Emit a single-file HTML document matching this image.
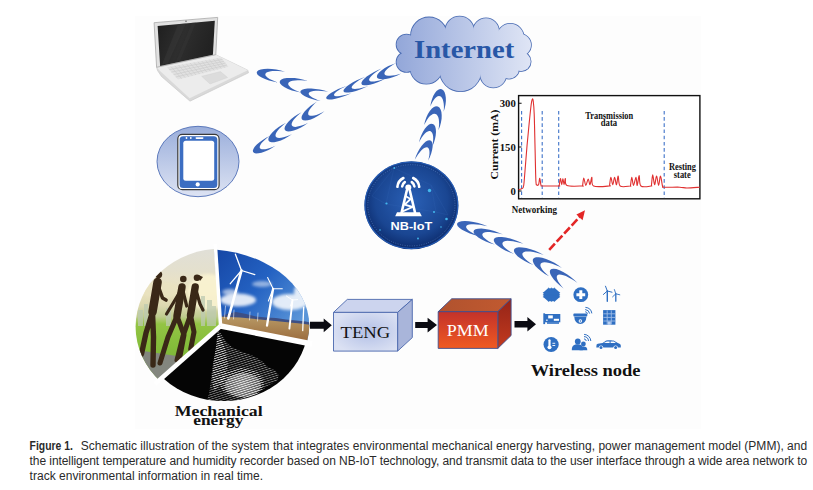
<!DOCTYPE html>
<html><head><meta charset="utf-8"><title>Figure 1</title>
<style>
html,body{margin:0;padding:0;background:#fff;width:813px;height:490px;overflow:hidden}
svg{position:absolute;left:0;top:0;display:block}
.cap{position:absolute;left:29.6px;font-family:"Liberation Sans",sans-serif;font-size:12px;color:#2a2a2a;white-space:nowrap;line-height:15px}
</style></head><body>
<svg width="813" height="490" viewBox="0 0 813 490">
<defs>
 <linearGradient id="cloudG" gradientUnits="userSpaceOnUse" x1="397" y1="0" x2="531" y2="0">
  <stop offset="0" stop-color="#93a7d9"/><stop offset="1" stop-color="#dfe5f5"/>
 </linearGradient>
 <linearGradient id="phoneG" x1="0" y1="0" x2="0" y2="1">
  <stop offset="0" stop-color="#9aaedb"/><stop offset="1" stop-color="#dde3f3"/>
 </linearGradient>
 <radialGradient id="nbG" cx="0.5" cy="0.45" r="0.55">
  <stop offset="0" stop-color="#2a60b6"/><stop offset="0.7" stop-color="#1a4692"/><stop offset="1" stop-color="#0c2b6c"/>
 </radialGradient>
 <linearGradient id="scrG" x1="0" y1="0" x2="1" y2="0.3">
  <stop offset="0" stop-color="#1e1e1e"/><stop offset="0.5" stop-color="#2e2e2e"/><stop offset="1" stop-color="#222"/>
 </linearGradient>
</defs>

<!-- faint figure backdrop -->
<rect x="135" y="16" width="566" height="413" fill="#fdfdfd"/>

<!-- laptop -->
<g id="laptop">
 <polygon points="156.6,67.3 215.8,54.7 247.8,70.2 248.5,72.8 190,101.2 161.5,76.5 157.5,70.5" fill="#d9d9d9" stroke="#c6c6c6" stroke-width="0.6"/>
 <polygon points="156.6,67.3 215.8,54.7 247.8,70.2 189.6,98.2 160,71" fill="#ececec"/>
 <polygon points="167,67.2 221,57.6 228.5,66.8 178,79.5" fill="#e1e1e1"/><path d="M169.2,69.7L222.5,59.4M171.4,72.1L224.0,61.3M173.6,74.6L225.5,63.1M175.8,77.0L227.0,65.0M170.9,66.5L181.6,78.6M174.7,65.8L185.2,77.7M178.6,65.1L188.8,76.8M182.4,64.5L192.4,75.9M186.3,63.8L196.0,75.0M190.1,63.1L199.6,74.1M194.0,62.4L203.2,73.2M197.9,61.7L206.9,72.2M201.7,61.0L210.5,71.3M205.6,60.3L214.1,70.4M209.4,59.7L217.7,69.5M213.3,59.0L221.3,68.6M217.1,58.3L224.9,67.7" stroke="#cdcdcd" stroke-width="0.7" fill="none"/>
 <polygon points="201.7,76.3 220.5,71.6 227.6,77.5 210,84" fill="#dcdcdc" stroke="#cfcfcf" stroke-width="0.4"/>
 <polygon points="154.1,22.7 217.7,17.4 215.8,54.7 156.6,67.3" fill="#e1e1e1" stroke="#a9a9a9" stroke-width="0.8"/>
 <polygon points="157.6,26 214.8,20.7 212.9,54.7 160.1,65.9" fill="url(#scrG)"/>
 <polygon points="178,24.2 186,23.5 168,63.3 162,64.6" fill="#3a3a3a" opacity="0.45"/>
 <polygon points="192,22.8 196,22.4 180,60.7 176,61.6" fill="#3a3a3a" opacity="0.35"/>
 <circle cx="186" cy="21.3" r="0.7" fill="#555"/>
</g>

<!-- phone -->
<g id="phone">
 <ellipse cx="198" cy="161.5" rx="41" ry="35.2" fill="url(#phoneG)" stroke="#4f6eb5" stroke-width="0.9"/>
 <rect x="177.8" y="134.4" width="41.3" height="55.3" rx="4.5" fill="#fff" stroke="#3a3a3a" stroke-width="1.2"/>
 <rect x="179.6" y="136.2" width="37.7" height="51.7" rx="3.5" fill="#3c6ec2"/>
 <rect x="183.3" y="140.7" width="30.9" height="40" rx="2.5" fill="#fff"/>
 <circle cx="197.7" cy="184.4" r="2.1" fill="#fff"/>
 <rect x="195.5" y="137.3" width="8" height="1.6" rx="0.8" fill="#fff"/>
 <circle cx="186.5" cy="138" r="0.9" fill="#fff"/><circle cx="190.8" cy="138" r="0.9" fill="#fff"/>
</g>

<!-- crescents -->
<g fill="#3a65b8"><path d="M285.0,71.7 280.8,70.5 276.3,69.6 271.9,69.0 267.7,68.7 263.9,68.9 260.8,69.4 258.5,70.2 257.1,71.4 256.7,72.8 257.4,74.4 259.1,76.0 261.7,77.6 265.0,79.1 269.0,80.5 273.3,81.6 277.8,82.4 274.7,81.3 271.9,80.1 269.6,78.9 267.7,77.7 266.4,76.5 265.5,75.4 265.3,74.3 265.6,73.4 266.5,72.6 267.9,71.9 269.8,71.4 272.2,71.1 274.9,71.0 278.1,71.0 281.4,71.3Z"/><path d="M307.8,81.0 303.6,79.7 299.2,78.7 294.7,78.1 290.5,77.9 286.8,78.0 283.6,78.6 281.4,79.5 280.0,80.7 279.7,82.2 280.3,83.8 282.0,85.6 284.6,87.3 288.0,89.0 291.9,90.4 296.2,91.6 300.7,92.4 297.6,91.3 294.8,90.0 292.5,88.7 290.6,87.4 289.3,86.1 288.4,84.9 288.2,83.8 288.5,82.8 289.3,82.0 290.7,81.2 292.6,80.7 295.0,80.4 297.8,80.2 300.9,80.3 304.2,80.6Z"/><path d="M328.3,91.7 324.3,90.5 319.9,89.6 315.5,88.9 311.3,88.6 307.6,88.6 304.4,89.0 302.1,89.7 300.7,90.7 300.3,91.9 300.9,93.3 302.5,94.8 304.9,96.3 308.2,97.8 312.0,99.1 316.2,100.2 320.6,101.0 317.6,99.9 315.0,98.8 312.7,97.7 310.9,96.6 309.6,95.5 308.9,94.5 308.7,93.5 309.0,92.7 309.9,92.0 311.4,91.4 313.3,91.1 315.7,90.8 318.4,90.8 321.5,90.9 324.9,91.2Z"/><path d="M269.7,136.0 266.1,137.8 262.7,139.9 259.5,142.2 256.8,144.5 254.7,146.8 253.4,148.9 252.8,150.7 253.1,152.1 254.2,153.0 256.0,153.4 258.5,153.3 261.5,152.7 264.9,151.5 268.5,149.9 272.0,148.0 275.4,145.8 272.6,147.0 269.9,148.0 267.4,148.7 265.2,149.2 263.3,149.3 261.7,149.2 260.6,148.8 259.9,148.2 259.7,147.2 259.9,146.1 260.5,144.7 261.6,143.1 263.1,141.4 265.0,139.7 267.2,137.8Z"/><path d="M286.1,122.8 282.3,124.8 278.7,127.1 275.4,129.6 272.5,132.2 270.4,134.7 268.9,137.1 268.3,139.1 268.6,140.7 269.7,141.8 271.6,142.3 274.2,142.3 277.4,141.6 280.9,140.4 284.6,138.7 288.3,136.6 291.9,134.2 288.9,135.5 286.1,136.6 283.5,137.3 281.2,137.8 279.2,137.9 277.6,137.7 276.4,137.2 275.7,136.4 275.5,135.4 275.7,134.0 276.4,132.5 277.6,130.7 279.2,128.8 281.1,126.9 283.5,124.8Z"/><path d="M301.6,112.2 297.9,114.2 294.4,116.6 291.2,119.1 288.4,121.7 286.4,124.2 285.0,126.5 284.5,128.5 284.9,130.0 286.1,131.0 288.1,131.4 290.7,131.3 293.8,130.5 297.3,129.2 301.0,127.4 304.7,125.2 308.1,122.8 305.2,124.2 302.4,125.3 299.8,126.1 297.5,126.6 295.5,126.9 293.9,126.8 292.7,126.3 291.9,125.6 291.6,124.6 291.8,123.3 292.4,121.8 293.5,120.1 295.0,118.2 296.9,116.3 299.1,114.2Z"/><path d="M317.1,101.6 313.6,103.7 310.3,106.1 307.3,108.7 304.8,111.3 303.0,113.8 301.8,116.1 301.5,118.0 302.0,119.4 303.3,120.3 305.2,120.6 307.8,120.3 310.9,119.4 314.2,117.9 317.7,116.0 321.2,113.8 324.4,111.3 321.6,112.7 318.9,113.9 316.4,114.9 314.2,115.5 312.2,115.8 310.6,115.8 309.4,115.5 308.5,114.9 308.2,113.9 308.2,112.7 308.7,111.2 309.7,109.5 311.0,107.7 312.7,105.7 314.7,103.6Z"/><path d="M346.4,85.9 342.3,87.4 338.2,89.1 334.5,90.9 331.3,92.7 328.8,94.5 327.0,96.2 326.2,97.5 326.3,98.6 327.4,99.3 329.3,99.5 332.0,99.4 335.4,98.8 339.2,97.8 343.2,96.5 347.4,94.9 351.3,93.2 348.0,94.2 345.0,95.0 342.2,95.6 339.7,96.1 337.7,96.2 336.0,96.2 334.8,95.9 334.2,95.4 334.0,94.7 334.4,93.8 335.3,92.8 336.7,91.6 338.6,90.2 340.8,88.8 343.5,87.4Z"/><path d="M365.2,76.8 361.0,78.4 356.8,80.3 352.9,82.3 349.4,84.5 346.6,86.5 344.7,88.4 343.6,90.0 343.5,91.3 344.4,92.2 346.2,92.6 348.8,92.5 352.2,91.9 356.0,90.9 360.2,89.5 364.4,87.8 368.5,85.8 365.2,86.9 362.1,87.8 359.3,88.4 356.9,88.8 354.9,88.9 353.3,88.8 352.2,88.4 351.7,87.8 351.7,87.0 352.2,85.9 353.3,84.7 354.9,83.3 356.9,81.7 359.3,80.1 362.1,78.5Z"/><path d="M381.5,68.6 377.5,70.3 373.6,72.2 369.9,74.4 366.7,76.6 364.2,78.8 362.4,80.8 361.5,82.5 361.5,83.9 362.4,84.9 364.2,85.3 366.8,85.3 370.0,84.7 373.7,83.7 377.7,82.3 381.7,80.5 385.5,78.4 382.4,79.5 379.5,80.4 376.8,81.0 374.4,81.4 372.4,81.5 370.9,81.4 369.8,80.9 369.2,80.3 369.1,79.3 369.6,78.2 370.5,76.9 371.9,75.4 373.8,73.8 376.1,72.1 378.7,70.3Z"/><path d="M396.2,63.0 392.3,64.4 388.4,66.1 384.8,68.1 381.7,70.2 379.3,72.2 377.6,74.2 376.9,75.9 377.0,77.4 378.0,78.5 379.9,79.1 382.6,79.3 385.8,79.0 389.5,78.2 393.4,77.0 397.4,75.4 401.1,73.6 398.0,74.5 395.1,75.2 392.4,75.6 390.0,75.8 388.0,75.8 386.4,75.5 385.2,75.0 384.6,74.2 384.4,73.2 384.8,72.1 385.6,70.8 387.0,69.3 388.7,67.8 390.9,66.2 393.4,64.6Z"/><path d="M430.3,106.6 430.9,103.0 431.9,99.4 433.2,96.1 434.8,93.3 436.5,91.1 438.3,89.7 440.1,89.0 441.8,89.2 443.3,90.2 444.5,92.0 445.3,94.5 445.8,97.6 445.9,101.0 445.5,104.6 444.7,108.3 443.6,111.7 443.9,108.8 443.9,106.1 443.7,103.6 443.3,101.4 442.8,99.5 442.0,97.9 441.1,96.8 440.1,96.2 439.0,96.0 437.7,96.3 436.5,97.0 435.1,98.2 433.9,99.8 432.6,101.8 431.4,104.1Z"/><path d="M424.1,125.1 425.0,121.2 426.3,117.4 427.9,114.0 429.8,111.0 431.9,108.6 433.9,107.1 436.0,106.3 437.8,106.5 439.4,107.5 440.6,109.4 441.4,112.0 441.7,115.2 441.6,118.8 440.9,122.7 439.9,126.5 438.4,130.2 438.9,127.1 439.1,124.3 439.0,121.6 438.8,119.3 438.3,117.3 437.5,115.7 436.6,114.6 435.5,113.9 434.3,113.7 432.9,114.0 431.4,114.9 429.9,116.1 428.4,117.8 426.9,119.9 425.5,122.4Z"/><path d="M419.0,142.4 420.0,138.6 421.4,135.0 423.1,131.6 425.0,128.6 427.0,126.3 429.0,124.6 431.0,123.8 432.7,123.9 434.1,124.8 435.2,126.5 435.8,129.0 436.0,132.0 435.7,135.5 435.0,139.1 433.8,142.9 432.3,146.5 432.8,143.5 433.1,140.8 433.2,138.2 433.1,136.0 432.7,134.2 432.1,132.7 431.2,131.7 430.2,131.1 429.1,131.0 427.8,131.4 426.3,132.2 424.9,133.5 423.4,135.2 421.9,137.3 420.4,139.7Z"/><path d="M414.8,159.7 416.0,156.1 417.6,152.5 419.5,149.1 421.5,146.0 423.7,143.5 425.8,141.6 427.8,140.5 429.6,140.2 431.0,140.7 432.0,142.1 432.6,144.2 432.6,146.9 432.1,150.1 431.2,153.6 429.8,157.2 428.1,160.7 428.8,158.0 429.3,155.4 429.5,153.1 429.4,151.1 429.1,149.5 428.5,148.3 427.8,147.5 426.8,147.2 425.6,147.4 424.2,148.0 422.8,149.0 421.2,150.5 419.6,152.4 418.0,154.6 416.4,157.0Z"/><path d="M487.5,226.2 483.0,224.5 478.3,223.1 473.5,222.0 468.9,221.3 464.9,221.0 461.5,221.2 458.9,221.9 457.4,222.9 457.0,224.3 457.6,225.9 459.3,227.8 462.0,229.7 465.6,231.6 469.8,233.4 474.4,235.0 479.2,236.3 475.9,234.8 473.0,233.3 470.5,231.8 468.6,230.4 467.1,229.1 466.3,227.8 466.1,226.7 466.5,225.8 467.5,225.1 469.0,224.6 471.1,224.3 473.7,224.2 476.7,224.4 480.0,224.7 483.7,225.4Z"/><path d="M503.1,234.5 498.8,232.7 494.2,231.1 489.6,229.8 485.2,229.0 481.3,228.6 478.0,228.7 475.5,229.3 474.0,230.3 473.5,231.7 474.1,233.4 475.8,235.3 478.3,237.4 481.7,239.5 485.8,241.4 490.2,243.2 494.8,244.6 491.7,243.0 488.9,241.4 486.5,239.8 484.7,238.3 483.3,236.9 482.5,235.6 482.3,234.5 482.7,233.5 483.7,232.8 485.2,232.3 487.3,232.1 489.8,232.1 492.7,232.4 495.9,232.9 499.4,233.6Z"/><path d="M523.4,243.8 519.2,241.7 514.7,240.0 510.2,238.6 505.8,237.6 501.8,237.1 498.5,237.1 495.9,237.6 494.3,238.6 493.7,240.0 494.2,241.8 495.6,243.9 498.1,246.0 501.3,248.3 505.2,250.4 509.5,252.3 514.1,254.0 511.0,252.3 508.4,250.5 506.1,248.8 504.4,247.2 503.1,245.7 502.5,244.3 502.4,243.2 502.9,242.2 503.9,241.5 505.5,241.0 507.6,240.8 510.1,240.9 513.0,241.2 516.3,241.9 519.7,242.7Z"/><path d="M543.7,254.9 539.6,252.7 535.2,250.8 530.7,249.2 526.3,248.0 522.3,247.4 518.9,247.3 516.3,247.7 514.6,248.7 513.9,250.1 514.2,252.0 515.5,254.1 517.8,256.4 521.0,258.8 524.7,261.1 529.0,263.2 533.5,265.0 530.5,263.2 527.9,261.3 525.8,259.5 524.1,257.8 523.0,256.2 522.4,254.8 522.4,253.6 523.0,252.7 524.1,252.0 525.7,251.5 527.9,251.4 530.4,251.6 533.4,252.0 536.6,252.7 540.1,253.7Z"/><path d="M561.9,268.0 558.3,265.3 554.4,262.8 550.2,260.7 546.1,259.0 542.2,257.8 538.8,257.2 536.0,257.3 534.0,258.0 532.9,259.3 532.8,261.1 533.6,263.3 535.3,265.9 537.9,268.6 541.2,271.3 544.9,273.9 549.0,276.3 546.5,274.1 544.4,272.0 542.6,269.9 541.4,268.1 540.6,266.4 540.4,264.9 540.7,263.8 541.5,263.0 542.8,262.4 544.6,262.3 546.8,262.4 549.3,262.9 552.2,263.8 555.3,264.9 558.6,266.3Z"/><path d="M577.5,282.9 574.4,279.9 570.8,276.9 567.0,274.2 563.2,271.9 559.6,270.2 556.3,269.1 553.6,268.7 551.5,269.0 550.2,270.0 549.8,271.7 550.3,273.9 551.7,276.5 553.8,279.4 556.6,282.5 559.9,285.6 563.6,288.4 561.4,286.0 559.6,283.6 558.2,281.5 557.3,279.5 556.8,277.9 556.8,276.5 557.2,275.5 558.2,274.8 559.5,274.6 561.3,274.7 563.4,275.2 565.9,276.1 568.6,277.4 571.4,279.0 574.4,280.8Z"/></g>

<!-- cloud -->
<g id="cloud">
 <g fill="url(#cloudG)" stroke="#4a6cb3" stroke-width="1.6">
  <circle cx="429" cy="35.4" r="18"/><circle cx="459.6" cy="30.8" r="14.3"/><circle cx="486" cy="31.2" r="12.9"/>
  <circle cx="510.3" cy="37.2" r="13.4"/><circle cx="520" cy="45" r="11"/><circle cx="521" cy="61.5" r="9.7"/>
  <circle cx="509" cy="68.7" r="10"/><circle cx="493.3" cy="74.5" r="13"/><circle cx="460.5" cy="70.5" r="20.7"/>
  <circle cx="426.3" cy="67.8" r="16"/><circle cx="406.5" cy="62" r="10"/><circle cx="406.5" cy="44.5" r="10"/>
 </g>
 <g fill="url(#cloudG)">
  <circle cx="429" cy="35.4" r="18"/><circle cx="459.6" cy="30.8" r="14.3"/><circle cx="486" cy="31.2" r="12.9"/>
  <circle cx="510.3" cy="37.2" r="13.4"/><circle cx="520" cy="45" r="11"/><circle cx="521" cy="61.5" r="9.7"/>
  <circle cx="509" cy="68.7" r="10"/><circle cx="493.3" cy="74.5" r="13"/><circle cx="460.5" cy="70.5" r="20.7"/>
  <circle cx="426.3" cy="67.8" r="16"/><circle cx="406.5" cy="62" r="10"/><circle cx="406.5" cy="44.5" r="10"/>
  <ellipse cx="463" cy="53" rx="52" ry="22"/>
 </g>
 <text x="414" y="58.3" textLength="100.3" lengthAdjust="spacingAndGlyphs" font-family="'Liberation Serif', serif" font-weight="bold" font-size="25.5" fill="#2857a6">Internet</text>
</g>

<!-- NB-IoT -->
<g id="nbiot">
 <ellipse cx="411.4" cy="205.3" rx="47" ry="44" fill="url(#nbG)"/>
 <ellipse cx="411.4" cy="205.3" rx="46.3" ry="43.3" fill="none" stroke="#2a66c4" stroke-width="1.2" opacity="0.8"/>
 <ellipse cx="411.4" cy="205.3" rx="43.6" ry="40.6" fill="none" stroke="#8fb4ec" stroke-width="0.6" stroke-dasharray="0.8 1.6" opacity="0.7"/>
 <g stroke="#3f78c8" stroke-width="0.4" opacity="0.35" fill="none">
  <path d="M372,196 L394,168 L431,185 L448,215 L436,212 L386,204 Z M394,168 L386,204 M431,185 L436,212"/>
 </g>
 <g fill="#43b8ee">
  <circle cx="429.5" cy="190.5" r="1.7"/><circle cx="446.5" cy="219" r="1.3"/><circle cx="386.5" cy="203.5" r="1.1"/>
  <circle cx="434" cy="212" r="1"/><circle cx="394.3" cy="168" r="0.9"/><circle cx="441" cy="227" r="0.8"/>
  <circle cx="380" cy="230" r="0.8"/><circle cx="418" cy="238.5" r="0.9"/>
 </g>
 <g fill="none" stroke="#fff" stroke-width="2.6" stroke-linecap="round">
  <path d="M402.2,186.4 A6.2,6.2 0 0 1 404.8,182.1"/>
  <path d="M397.4,186.8 A11,11 0 0 1 403.4,178"/>
  <path d="M414.4,186.4 A6.2,6.2 0 0 0 411.8,182.1"/>
  <path d="M419.2,186.8 A11,11 0 0 0 413.2,178"/>
 </g>
 <circle cx="408.3" cy="187.5" r="3" fill="#fff"/>
 <g fill="none" stroke="#fff" stroke-linejoin="round" stroke-linecap="round">
  <path d="M406.8,190.5 L401.6,212.5 M409.8,190.5 L415,212.5" stroke-width="2.6"/>
  <path d="M406.2,196.5 L410.6,199 L404.6,204.6 L412.6,207 L402.6,211.4" stroke-width="1.9"/>
 </g>
 <polygon points="397,212.2 419.8,212.2 421.8,216.2 395.2,216.2" fill="#fff"/>
 <text x="390.5" y="229.6" textLength="41.7" lengthAdjust="spacingAndGlyphs" font-family="'Liberation Sans', sans-serif" font-weight="bold" font-size="11.4" fill="#fff">NB-IoT</text>
</g>

<!-- chart -->
<g id="chart">
 <rect x="518.6" y="95.6" width="181.3" height="103.2" fill="#fff" stroke="#111" stroke-width="1.4"/>
 <g stroke="#111" stroke-width="1.1"><path d="M518.6,103.3h3 M518.6,147h3 M518.6,191h3"/></g>
 <g stroke="#3f73c9" stroke-width="1.1" stroke-dasharray="3.6 2.6">
  <path d="M521.6,110.9V198 M542.2,110.9V198 M558.7,110.9V198 M664.2,110.9V198"/>
 </g>
 <path d="M518.6,189.6 C519.17,189.43 521.17,189.20 522.0,188.6 C522.83,188.00 523.10,188.93 523.6,186.0 C524.10,183.07 524.43,177.67 525.0,171.0 C525.57,164.33 526.33,153.67 527.0,146.0 C527.67,138.33 528.33,131.67 529.0,125.0 C529.67,118.33 530.47,110.25 531.0,106.0 C531.53,101.75 531.83,100.37 532.2,99.5 C532.57,98.63 532.87,98.38 533.2,100.8 C533.53,103.22 533.88,105.80 534.2,114.0 C534.52,122.20 534.82,138.83 535.1,150.0 C535.38,161.17 535.58,175.20 535.9,181.0 C536.22,186.80 536.55,184.20 537.0,184.8 C537.45,185.40 538.13,185.70 538.6,184.6 C539.07,183.50 539.40,178.10 539.8,178.2 C540.20,178.30 540.43,183.90 541.0,185.2 C541.57,186.50 540.25,185.87 543.2,186.0 C546.15,186.13 556.12,186.00 558.7,186.0 C561.28,186.00 558.62,186.08 558.7,186.0 C558.78,185.92 558.92,186.75 559.2,185.5 C559.48,184.25 559.98,178.63 560.4,178.5 C560.82,178.37 561.28,184.70 561.7,184.7 C562.12,184.70 562.50,178.50 562.9,178.5 C563.30,178.50 563.68,184.70 564.1,184.7 C564.52,184.70 564.92,178.37 565.4,178.5 C565.88,178.63 564.22,184.25 567.0,185.5 C569.78,186.75 579.50,186.02 582.1,186.0 C584.70,185.98 582.32,186.73 582.6,185.4 C582.88,184.07 583.27,178.00 583.8,178.0 C584.33,178.00 585.07,185.23 585.8,185.4 C586.53,185.57 587.50,179.12 588.2,179.0 C588.90,178.88 589.38,184.98 590.0,184.7 C590.62,184.42 591.30,177.08 591.9,177.3 C592.50,177.52 590.73,184.55 593.6,186.0 C596.47,187.45 606.43,186.22 609.1,186.0 C611.77,185.78 609.30,186.15 609.6,184.7 C609.90,183.25 610.37,177.30 610.9,177.3 C611.43,177.30 612.18,184.70 612.8,184.7 C613.42,184.70 613.98,177.30 614.6,177.3 C615.22,177.30 615.90,184.92 616.5,184.7 C617.10,184.48 617.58,175.78 618.2,176.0 C618.82,176.22 618.23,184.33 620.2,186.0 C622.17,187.67 628.28,186.10 630.0,186.0 C631.72,185.90 630.20,186.85 630.5,185.4 C630.80,183.95 631.30,177.30 631.8,177.3 C632.30,177.30 632.80,185.40 633.5,185.4 C634.20,185.40 635.38,177.30 636.0,177.3 C636.62,177.30 636.67,185.68 637.2,185.4 C637.73,185.12 638.58,175.50 639.2,175.6 C639.82,175.70 638.93,184.27 640.9,186.0 C642.87,187.73 649.23,186.22 651.0,186.0 C652.77,185.78 651.22,186.55 651.5,184.7 C651.78,182.85 652.18,174.90 652.7,174.9 C653.22,174.90 653.95,184.52 654.6,184.7 C655.25,184.88 655.93,175.88 656.6,176.0 C657.27,176.12 657.95,185.40 658.6,185.4 C659.25,185.40 659.85,175.90 660.5,176.0 C661.15,176.10 661.88,184.13 662.5,186.0 C663.12,187.87 661.33,187.00 664.2,187.2 C667.07,187.40 675.90,187.07 679.7,187.2 C683.50,187.33 683.63,188.00 687.0,188.0 C690.37,188.00 697.75,187.33 699.9,187.2" fill="none" stroke="#e03030" stroke-width="1.1" stroke-linejoin="round"/>
 <g font-family="'Liberation Serif', serif" font-weight="bold" fill="#111">
  <text x="515.8" y="107" font-size="10.7" text-anchor="end">300</text>
  <text x="515.8" y="150.8" font-size="10.7" text-anchor="end">150</text>
  <text x="515.8" y="195" font-size="10.7" text-anchor="end">0</text>
  <text transform="translate(498.4,144.6) rotate(-90)" font-size="11" text-anchor="middle" textLength="70" lengthAdjust="spacingAndGlyphs">Current (mA)</text>
  <text x="585.3" y="118.8" font-size="9.8" textLength="47.8" lengthAdjust="spacingAndGlyphs">Transmission</text>
  <text x="600.8" y="126.1" font-size="9.8" textLength="16.4" lengthAdjust="spacingAndGlyphs">data</text>
  <text x="668.9" y="169.9" font-size="9.6" textLength="27.1" lengthAdjust="spacingAndGlyphs">Resting</text>
  <text x="673.8" y="177.7" font-size="9.6" textLength="16.9" lengthAdjust="spacingAndGlyphs">state</text>
  <text x="511.8" y="212.9" font-size="9.9" textLength="45.2" lengthAdjust="spacingAndGlyphs">Networking</text>
 </g>
</g>

<!-- red dashed arrow -->
<g id="redarrow">
 <path d="M549.2,249.8 L580.5,216" stroke="#e32626" stroke-width="2.6" stroke-dasharray="8.4 2.6" fill="none"/>
 <polygon points="585,210.3 582.6,220.2 576.4,214.6" fill="#e32626"/>
</g>
<!-- pie -->
<defs>
 <clipPath id="eA"><ellipse cx="222.2" cy="326.7" rx="86.6" ry="78.1"/></clipPath>
 <clipPath id="eB"><ellipse cx="206.9" cy="325.5" rx="102.4" ry="75.9"/></clipPath>
 <clipPath id="eC"><ellipse cx="223.5" cy="324.5" rx="84.5" ry="76.6"/></clipPath>
 <clipPath id="wA"><polygon points="220.6,326 213.5,240 120,240 120,420 150,389"/></clipPath>
 <clipPath id="wB"><polygon points="220.6,326 213.5,240 320,240 320,345"/></clipPath>
 <clipPath id="wC"><polygon points="220.6,326 320,345 320,420 120,420 150,389"/></clipPath>
 <linearGradient id="skyA" x1="0" y1="248" x2="0" y2="400" gradientUnits="userSpaceOnUse">
  <stop offset="0" stop-color="#e0dfd8"/><stop offset="0.15" stop-color="#e4e0cd"/><stop offset="0.28" stop-color="#ece3c0"/>
  <stop offset="0.38" stop-color="#dcd8b0"/><stop offset="0.45" stop-color="#c0cc90"/><stop offset="0.5" stop-color="#93c444"/><stop offset="0.65" stop-color="#84bd3a"/><stop offset="1" stop-color="#6c9c3a"/>
 </linearGradient>
 <linearGradient id="skyB" x1="218" y1="250" x2="300" y2="320" gradientUnits="userSpaceOnUse">
  <stop offset="0" stop-color="#1647a6"/><stop offset="0.5" stop-color="#2462c2"/><stop offset="1" stop-color="#5a95d8"/>
 </linearGradient>
 <linearGradient id="gndB" x1="0" y1="316" x2="0" y2="342" gradientUnits="userSpaceOnUse">
  <stop offset="0" stop-color="#b89a66"/><stop offset="1" stop-color="#9a6a3c"/>
 </linearGradient>
 <pattern id="streak" width="3" height="2.2" patternUnits="userSpaceOnUse" patternTransform="rotate(-18)">
  <rect width="3" height="0.8" fill="#fff"/>
 </pattern>
 <radialGradient id="glowC" cx="243" cy="384" r="40" gradientUnits="userSpaceOnUse">
  <stop offset="0" stop-color="#fff" stop-opacity="0.9"/><stop offset="1" stop-color="#fff" stop-opacity="0"/>
 </radialGradient>
 <filter id="blur1"><feGaussianBlur stdDeviation="1.5"/></filter>
 <filter id="blur05"><feGaussianBlur stdDeviation="0.6"/></filter>
</defs>
<g>
 <!-- wedge A -->
 <g clip-path="url(#eA)"><g clip-path="url(#wA)">
  <rect x="130" y="245" width="95" height="160" fill="url(#skyA)"/>
  <ellipse cx="208" cy="292" rx="20" ry="18" fill="#fbf4d2" opacity="0.85" filter="url(#blur1)"/>
  <ellipse cx="160" cy="290" rx="20" ry="8" fill="#e9e2bf" opacity="0.7" filter="url(#blur1)"/>
  <g fill="#bccab0" opacity="0.75">
   <rect x="138" y="310" width="5" height="16"/><rect x="144" y="304" width="4" height="22"/><rect x="166" y="308" width="5" height="18"/>
   <rect x="190" y="302" width="4" height="24"/><rect x="201" y="296" width="4" height="30"/><rect x="207" y="300" width="5" height="26"/><rect x="212" y="306" width="4" height="20"/>
  </g>
  <polygon points="130,349 150,352 170,355 190,358 210,354 222,350 222,405 130,405" fill="#83867e"/>
  <g stroke="#3a2817" stroke-linecap="round" stroke-linejoin="round" fill="none">
   <path d="M157.6,282 L152.5,312" stroke-width="8.5"/>
   <path d="M152.5,312 L146,333 L141.5,354 M152.5,312 L153.5,337 L153,365" stroke-width="5.4"/>
   <path d="M158.5,287 L162.5,298 L166,300" stroke-width="3.6"/>
   <path d="M182,287 L177,316" stroke-width="7.4"/>
   <path d="M177,316 L168,337 L160,363 M177,316 L184,335 L180,356" stroke-width="5"/>
   <path d="M181,290 L172,305 L166.5,314 M183,291 L186.7,306" stroke-width="3.2"/>
   <path d="M195.2,287 L190.5,315" stroke-width="7.4"/>
   <path d="M190.5,315 L183,336 L177,360 M190.5,315 L194,332 L190.7,349" stroke-width="5"/>
   <path d="M196,290 L200,304 L203,310" stroke-width="3.2"/>
  </g>
  <g fill="#3a2817"><circle cx="158.6" cy="274.6" r="3.6"/><circle cx="183.3" cy="279" r="3.3"/><circle cx="197" cy="277.8" r="3.3"/>
   <path d="M198.5,275 L203,277 L200,281 Z"/></g>
 </g>
 </g>
 <!-- wedge B -->
 <g clip-path="url(#eB)"><g clip-path="url(#wB)">
  <rect x="210" y="245" width="105" height="105" fill="url(#skyB)"/>
  <g fill="#fff" filter="url(#blur1)" opacity="0.85">
   <ellipse cx="238" cy="300" rx="18" ry="6.5"/><ellipse cx="290" cy="302" rx="18" ry="8"/><ellipse cx="302" cy="292" rx="8" ry="9"/>
   <ellipse cx="262" cy="284" rx="10" ry="3" opacity="0.6"/><ellipse cx="230" cy="292" rx="8" ry="3" opacity="0.7"/>
  </g>
  <polygon points="222,316 228,313.5 236,312 246,314 256,316.5 266,317.5 276,318 286,319.5 296,320.5 306,321.5 312,323 312,328 222,319" fill="#3d4f84"/>
  <polygon points="215,316.5 240,317.5 260,319.5 280,321.5 300,323.5 312,325 312,350 215,350" fill="url(#gndB)"/>
  <g stroke="#fff" fill="none" stroke-linecap="round">
   <path d="M241.5,270.5 L228.3,318.4" stroke-width="2.6"/>
   <path d="M241.5,270.5 L235.4,254.2 M241.5,270.5 L254.8,274.6 M241.5,270.5 L230.3,283.7" stroke-width="1.3"/>
   <path d="M273.1,288.8 L267,325.5" stroke-width="2.3"/>
   <path d="M273.1,288.8 L267.6,277.6 M273.1,288.8 L282.3,288.8 M273.1,288.8 L268.4,301" stroke-width="1.1"/>
   <path d="M292.5,300 L289.4,328.6" stroke-width="1.9"/>
   <path d="M292.5,300 L286.4,296 M292.5,300 L297.6,299.6 M292.5,300 L290.4,306" stroke-width="0.9"/>
   <path d="M303.7,307.2 L302.7,330.6" stroke-width="1.3"/>
   <path d="M225.5,306 L224.5,318 M234,310 L233.5,319 M250,312 L249.5,320 M258,313 L257.5,321" stroke-width="0.7" opacity="0.8"/>
  </g>
 </g>
 </g>
 <!-- wedge C -->
 <g clip-path="url(#eC)"><g clip-path="url(#wC)">
  <rect x="130" y="320" width="190" height="90" fill="#050505"/>
  <polygon points="217.9,331 220.8,333.3 225.5,341 231.3,346.7 238.9,350.5 246.5,353.4 254.1,356.2 261.8,361 267.5,366.7 275.1,370.5 278.9,375.3 277,381 269.4,384.8 261.8,390.5 254.1,396.3 250.3,404 206,404 209.3,392.4 211.2,377.2 213.2,362 216,348.6" fill="url(#streak)" opacity="0.5"/>
  <polygon points="217.9,331 222,340 226,352 228,366 224,380 214,392 212,378 214,360 216,346" fill="url(#streak)" opacity="0.7"/>
  <ellipse cx="242" cy="383" rx="22" ry="15" fill="url(#streak)" opacity="0.7"/>
  <ellipse cx="243" cy="385" rx="18" ry="12" fill="url(#glowC)" opacity="0.55"/>
 </g></g>
</g>
<g stroke="#fff" stroke-linecap="butt">
 <path d="M220.6,326 L215.3,244" stroke-width="3.5"/>
 <path d="M220.6,326 L312,344" stroke-width="5.5"/>
 <path d="M220.6,326 L155,384" stroke-width="4.5"/>
</g>
<g font-family="'Liberation Serif', serif" font-weight="bold" fill="#111" font-size="15.3">
 <text x="174.8" y="415.7" textLength="87.8" lengthAdjust="spacingAndGlyphs">Mechanical</text>
 <text x="193.2" y="425.3" textLength="50.2" lengthAdjust="spacingAndGlyphs">energy</text>
</g>

<!-- arrows -->
<g fill="#0b0b12">
 <polygon points="310,321.7 323.7,321.7 323.7,318.5 331.8,325.2 323.7,332.2 323.7,328.8 310,328.8"/>
 <polygon points="415.2,322 427.6,322 427.6,317.7 437,325 427.6,332.4 427.6,328 415.2,328"/>
 <polygon points="514.5,321 527.4,321 527.4,316.9 536,324.3 527.4,331.6 527.4,327.6 514.5,327.6"/>
</g>

<!-- TENG box -->
<defs>
 <radialGradient id="tengF" cx="0.55" cy="0.5" r="0.6">
  <stop offset="0" stop-color="#b3c0e6"/><stop offset="1" stop-color="#dbe1f3"/>
 </radialGradient>
 <linearGradient id="pmmF" x1="0" y1="0" x2="0" y2="1">
  <stop offset="0" stop-color="#c3322a"/><stop offset="1" stop-color="#f05a22"/>
 </linearGradient>
 <linearGradient id="pmmT" x1="0" y1="0" x2="1" y2="0">
  <stop offset="0" stop-color="#b0522e"/><stop offset="1" stop-color="#c25a30"/>
 </linearGradient>
 <linearGradient id="pmmR" x1="0" y1="0" x2="0" y2="1">
  <stop offset="0" stop-color="#952418"/><stop offset="1" stop-color="#c23a1e"/>
 </linearGradient>
</defs>
<g stroke="#4a66ad" stroke-width="0.9" stroke-linejoin="round">
 <polygon points="333.5,312.4 347.3,299.4 412.3,299.4 397.6,312.4" fill="#ccd4ee"/>
 <polygon points="397.6,312.4 412.3,299.4 412.3,337.6 397.6,351.1" fill="#a9b5da"/>
 <rect x="333.5" y="312.4" width="64.1" height="38.7" fill="url(#tengF)"/>
</g>
<text x="340.5" y="338.1" textLength="49.8" lengthAdjust="spacingAndGlyphs" font-family="'Liberation Serif', serif" font-size="16.5" fill="#141414">TENG</text>
<g stroke="#3f4e8c" stroke-width="0.9" stroke-linejoin="round">
 <polygon points="438.2,311.7 451.7,298.8 511.1,298.8 497.8,311.7" fill="url(#pmmT)"/>
 <polygon points="497.8,311.7 511.1,298.8 511.1,335.5 497.8,348.4" fill="url(#pmmR)"/>
 <rect x="438.2" y="311.7" width="59.6" height="36.7" fill="url(#pmmF)"/>
</g>
<text x="446.8" y="336.1" textLength="41.9" lengthAdjust="spacingAndGlyphs" font-family="'Liberation Serif', serif" font-size="16.5" fill="#fff">PMM</text>
<!-- icons -->
<g id="icons" fill="#2f6fc2">
 <!-- chip -->
 <polygon points="548,288.2 555,288.2 559.5,292.2 559.5,297.2 555,301.2 548,301.2 543.5,297.2 543.5,292.2"/>
 <g stroke="#2f6fc2" stroke-width="0.7"><path d="M542.9,292.5h17.2M542.9,294.7h17.2M542.9,296.9h17.2M548.5,287.6v14.2M551.5,287.6v14.2M554.5,287.6v14.2"/></g>
 <!-- plus circle -->
 <circle cx="580.8" cy="294.7" r="7.4"/>
 <path d="M579.3,290.3h3v2.9h2.9v3h-2.9v2.9h-3v-2.9h-2.9v-3h2.9z" fill="#fff"/>
 <!-- turbines -->
 <g stroke="#2f6fc2" fill="none" stroke-linecap="round">
  <path d="M607.3,291 L607.3,301.2" stroke-width="1.4"/>
  <path d="M607.3,291 L605.5,286.2 M607.3,291 L612,292.2 M607.3,291 L603.4,294.5" stroke-width="1"/>
  <path d="M615.8,293.8 L615.8,301.2" stroke-width="1.3"/>
  <path d="M615.8,293.8 L614.4,289.6 M615.8,293.8 L619.8,294.8 M615.8,293.8 L612.6,296.8" stroke-width="0.9"/>
 </g>
 <!-- card -->
 <rect x="543.3" y="313.3" width="1.8" height="10.8"/>
 <rect x="545" y="314" width="15.3" height="8.3"/>
 <rect x="547" y="322.2" width="12" height="1.6"/>
 <rect x="548.2" y="315.4" width="4.6" height="3" fill="#fff"/>
 <rect x="553.8" y="318.8" width="5.2" height="2" fill="#fff"/>
 <rect x="546.3" y="319.5" width="1.2" height="1.5" fill="#fff"/>
 <!-- dome camera -->
 <rect x="573.4" y="313.6" width="13.9" height="3" rx="0.8"/>
 <path d="M574.3,316.8 H586.4 A6.05,7.3 0 0 1 574.3,316.8 Z"/>
 <circle cx="580.35" cy="321" r="1.7" fill="#fff"/><circle cx="580.35" cy="321" r="0.8"/>
 <g fill="none" stroke="#2f6fc2" stroke-width="1" stroke-linecap="round">
  <path d="M587.4,313.4 A2,2 0 0 0 585.6,311.8"/><path d="M589.6,313.2 A4.4,4.4 0 0 0 585.6,309.6"/><path d="M591.8,313 A6.6,6.6 0 0 0 585.8,307.4"/>
 </g>
 <!-- building -->
 <rect x="603.1" y="310.1" width="12.3" height="14.6"/>
 <g stroke="#9dbbe6" stroke-width="0.9"><path d="M607.2,310.4v14.1M611.3,310.4v14.1M603.4,313.8h11.7M603.4,317.4h11.7M603.4,321h11.7"/></g>
 <rect x="607.7" y="321.5" width="3.1" height="3.3" fill="#b8cff0"/>
 <!-- thermometer circle -->
 <circle cx="551.1" cy="344.5" r="7.6"/>
 <rect x="548.4" y="339.2" width="2.2" height="7" rx="1.1" fill="#fff"/>
 <circle cx="549.5" cy="347.3" r="2" fill="#fff"/>
 <rect x="552.4" y="342.8" width="2.8" height="0.9" fill="#fff"/><rect x="552.4" y="345" width="2.8" height="0.9" fill="#fff"/>
 <!-- people -->
 <circle cx="577.8" cy="341.5" r="2.9"/>
 <path d="M571.8,350.3 C571.8,345.5 574,344.3 577.8,344.3 C581,344.3 582.6,345.6 582.8,347.5 L582.8,350.3 Z"/>
 <circle cx="583.4" cy="344" r="2.4"/>
 <path d="M579.6,350.3 C579.6,347.3 581,346.6 583.4,346.6 C586,346.6 587.3,347.5 587.3,350.3 Z"/>
 <g fill="none" stroke="#2f6fc2" stroke-width="1" stroke-linecap="round">
  <path d="M586.2,340.6 A2,2 0 0 0 584.4,338.9"/><path d="M588.5,340.6 A4.3,4.3 0 0 0 584.4,336.6"/><path d="M590.8,340.6 A6.5,6.5 0 0 0 584.5,334.4"/>
 </g>
 <!-- car -->
 <path d="M596.3,347.5 L596.6,344.4 C598,343.5 600.5,343.2 602.6,343 L606.2,340.6 C609,340.2 612.5,340.3 614.5,340.9 L617.8,343.1 C619.6,343.5 620.6,344.3 620.8,345.6 L620.8,347.6 Z"/>
 <path d="M603.8,343.1 L606.8,341.5 L609.6,341.4 L609.6,343.1 Z M610.6,341.4 L613.8,341.6 L616,343.1 L610.6,343.1 Z" fill="#fff"/>
 <circle cx="601" cy="347.6" r="2.2" fill="#fff"/><circle cx="601" cy="347.6" r="1.5"/>
 <circle cx="615.6" cy="347.6" r="2.2" fill="#fff"/><circle cx="615.6" cy="347.6" r="1.5"/>
</g>
<text x="530.7" y="376" textLength="109.8" lengthAdjust="spacingAndGlyphs" font-family="'Liberation Serif', serif" font-weight="bold" font-size="16.5" fill="#111">Wireless node</text>
<!-- caption -->
<g font-family="'Liberation Sans', sans-serif" font-size="12" fill="#2a2a2a">
 <text x="29.6" y="449.8" textLength="43.2" lengthAdjust="spacingAndGlyphs" font-weight="bold">Figure 1.</text>
 <text x="80.8" y="449.8" textLength="726.4" lengthAdjust="spacing">Schematic illustration of the system that integrates environmental mechanical energy harvesting, power management model (PMM), and</text>
 <text x="29.6" y="464.5" textLength="777.6" lengthAdjust="spacing">the intelligent temperature and humidity recorder based on NB-IoT technology, and transmit data to the user interface through a wide area network to</text>
 <text x="29.6" y="479.6" textLength="233.4" lengthAdjust="spacing">track environmental information in real time.</text>
</g>

</svg>

</body></html>
